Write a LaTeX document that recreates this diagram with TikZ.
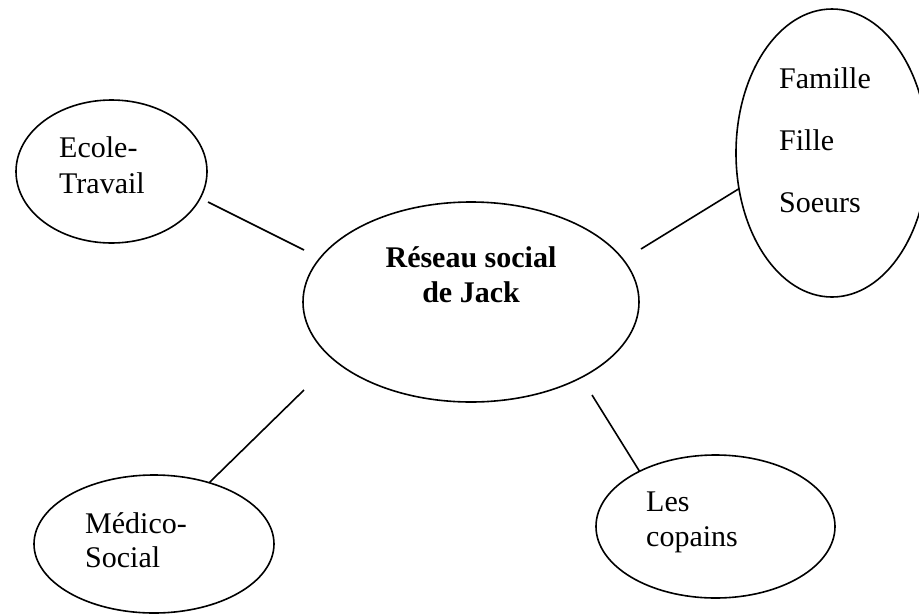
\documentclass[tikz,border=0pt]{standalone}
\usepackage{fontspec}
\setmainfont{Liberation Serif}
\usetikzlibrary{shapes.geometric}
\begin{document}
\begin{tikzpicture}[x=1pt,y=-1pt,
  bubble/.style={draw, ellipse, line width=1.6pt, inner sep=0pt, outer sep=0pt},
  link/.style={line width=1.6pt},
  lbl/.style={anchor=base west, inner sep=0pt, font=\fontsize{30}{36}\selectfont},
  hubtext/.style={anchor=base, inner sep=0pt, font=\fontsize{30}{35}\selectfont\bfseries}]
\useasboundingbox (0,0) rectangle (919,614);

% bubbles
\node[bubble, minimum width=336pt, minimum height=200pt] (hub) at (471,302) {};
\node[bubble, minimum width=191pt, minimum height=143pt] (ecole) at (111.5,171.5) {};
\node[bubble, minimum width=192pt, minimum height=288pt] (famille) at (832,153) {};
\node[bubble, minimum width=240pt, minimum height=138pt] (medico) at (154,544) {};
\node[bubble, minimum width=239pt, minimum height=143pt] (copains) at (715.5,526.5) {};

% labels
\node[hubtext] (hubA) at (471,267) {Réseau social};
\node[hubtext] (hubB) at (471,302) {de Jack};

\node[lbl] (ecA) at (59,157) {Ecole-};
\node[lbl] (ecB) at (59,193) {Travail};

\node[lbl] (faA) at (779,88) {Famille};
\node[lbl] (faB) at (779,150) {Fille};
\node[lbl] (faC) at (779,212) {Soeurs};

\node[lbl] (meA) at (85,533) {Médico-};
\node[lbl] (meB) at (85,567) {Social};

\node[lbl] (coA) at (646,511) {Les};
\node[lbl] (coB) at (646,546) {copains};

% connector ends that stop short of a bubble
\coordinate (ecEnd) at (208,202);
\coordinate (hubNW) at (304,250);
\coordinate (hubNE) at (641,249);
\coordinate (hubSW) at (304,390);
\coordinate (hubSE) at (592,395);

% connectors (anchor angles are measured on the page, upwards positive)
\draw[link] (ecEnd) -- (hubNW);
\draw[link] (hubNE) -- (famille.201.8);
\draw[link] (hubSW) -- (medico.48.5);
\draw[link] (hubSE) -- (copains.144.5);
\end{tikzpicture}
\end{document}
